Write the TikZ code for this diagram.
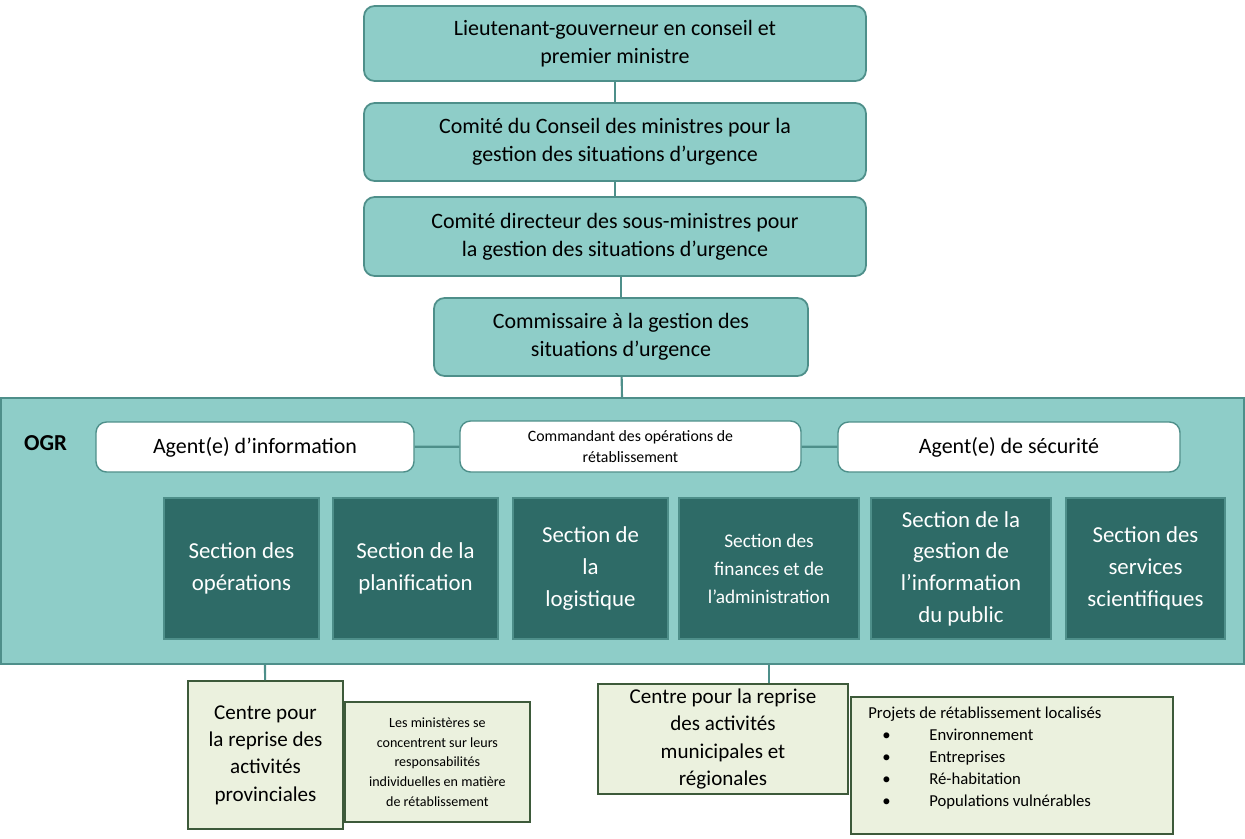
\documentclass[tikz,border=0pt]{standalone}
\usepackage{fontspec}
\setmainfont{Carlito}
\definecolor{tealL}{HTML}{8ECDC8}
\definecolor{tealB}{HTML}{4E8F8A}
\definecolor{tealD}{HTML}{2E6B67}
\definecolor{greenL}{HTML}{EBF1DE}
\definecolor{greenB}{HTML}{3D5A3A}
\tikzset{
  govbox/.style={draw=tealB,fill=tealL,rounded corners=6pt,line width=1pt,align=center,font=\fontsize{12.5}{16}\selectfont,inner sep=0pt},
  whitebox/.style={draw=tealB,fill=white,rounded corners=6pt,line width=0.8pt,align=center,inner sep=0pt},
  secbox/.style={draw=tealB,fill=tealD,text=white,align=center,font=\fontsize{13}{18}\selectfont,inner sep=0pt,line width=0.6pt},
  ctrbox/.style={draw=greenB,fill=greenL,line width=1pt,align=center,inner sep=0pt},
  link/.style={draw=tealB,line width=1.2pt}
}
\begin{document}
\begin{tikzpicture}[x=0.02cm,y=-0.02cm]
\useasboundingbox (0,0) rectangle (1245,839);
% frame of the OGR
\node[draw=tealB,fill=tealL,line width=1pt,minimum width=1243*0.02cm,minimum height=266*0.02cm,inner sep=0pt] (ogr) at (622.5,531) {};
\node[font=\fontsize{13}{16}\selectfont\bfseries,anchor=west] (ogrlabel) at (18,443) {OGR};

\node[govbox,minimum width=502*0.02cm,minimum height=75*0.02cm] (lg) at (615,43.5) {Lieutenant-gouverneur en conseil et\\premier ministre};
\node[govbox,minimum width=502*0.02cm,minimum height=78*0.02cm] (ccm) at (615,142) {Comité du Conseil des ministres pour la\\gestion des situations d'urgence};
\node[govbox,minimum width=502*0.02cm,minimum height=79*0.02cm] (csm) at (615,236.5) {Comité directeur des sous-ministres pour\\la gestion des situations d’urgence};
\node[govbox,minimum width=374*0.02cm,minimum height=78*0.02cm] (comm) at (621,337) {Commissaire à la gestion des\\situations d'urgence};
\coordinate (ogrtop) at (622,398);
\draw[link] (lg) -- (ccm);
\draw[link] (ccm) -- (csm);
\draw[link] (csm.south -| comm.north) -- (comm);
\draw[link] (comm) -- (ogrtop);

\node[whitebox,minimum width=318*0.02cm,minimum height=50*0.02cm,font=\fontsize{12.5}{15}\selectfont] (info) at (255,447) {Agent(e) d’information};
\node[whitebox,minimum width=341*0.02cm,minimum height=51*0.02cm,font=\fontsize{9}{11.5}\selectfont] (cmd) at (630.5,446.5) {Commandant des opérations de\\rétablissement};
\node[whitebox,minimum width=342*0.02cm,minimum height=50*0.02cm,font=\fontsize{12.5}{15}\selectfont] (secu) at (1009,447) {Agent(e) de sécurité};
\draw[link] (info) -- (cmd);
\draw[link] (cmd) -- (secu);

\node[secbox,minimum width=155*0.02cm,minimum height=141*0.02cm] (ops) at (241.5,568.5) {Section des\\opérations};
\node[secbox,minimum width=165*0.02cm,minimum height=141*0.02cm] (plan) at (415.5,568.5) {Section de la\\planification};
\node[secbox,minimum width=155*0.02cm,minimum height=141*0.02cm] (logi) at (590.5,568.5) {Section de\\la\\logistique};
\node[secbox,minimum width=180*0.02cm,minimum height=141*0.02cm,font=\fontsize{11}{16}\selectfont] (fin) at (769,568.5) {Section des\\finances et de\\l’administration};
\node[secbox,minimum width=180*0.02cm,minimum height=141*0.02cm] (gip) at (961,568.5) {Section de la\\gestion de\\l’information\\du public};
\node[secbox,minimum width=159*0.02cm,minimum height=141*0.02cm] (sci) at (1145.5,568.5) {Section des\\services\\scientifiques};

\coordinate (ogrL) at (265,664);
\coordinate (ogrR) at (769,664);
\node[ctrbox,minimum width=155*0.02cm,minimum height=148*0.02cm,font=\fontsize{12}{15.5}\selectfont] (prov) at (265.5,755) {Centre pour\\la reprise des\\activités\\provinciales};
\node[ctrbox,minimum width=185*0.02cm,minimum height=120*0.02cm,font=\fontsize{8}{11.2}\selectfont,anchor=west] (mins) at (344,762) {Les ministères se\\concentrent sur leurs\\responsabilités\\individuelles en matière\\de rétablissement};
\node[ctrbox,minimum width=250*0.02cm,minimum height=110*0.02cm,font=\fontsize{12}{15.5}\selectfont] (muni) at (723,739) {Centre pour la reprise\\des activités\\municipales et\\régionales};
\node[ctrbox,minimum width=322*0.02cm,minimum height=137*0.02cm,font=\fontsize{9.5}{13.5}\selectfont,anchor=west] (proj) at (850,765.5) {};
\node[font=\fontsize{9.5}{13.5}\selectfont,anchor=north west,align=left,inner sep=0pt] (projtxt) at (868,707)
  {Projets de rétablissement localisés\\[-1pt]
   \hspace*{8pt}\textbullet\hspace{22pt}Environnement\\[-1pt]
   \hspace*{8pt}\textbullet\hspace{22pt}Entreprises\\[-1pt]
   \hspace*{8pt}\textbullet\hspace{22pt}Ré-habitation\\[-1pt]
   \hspace*{8pt}\textbullet\hspace{22pt}Populations vulnérables};
\draw[link] (ogrL) -- (prov);
\draw[link] (ogrR) -- (ogrR |- muni.north);
\end{tikzpicture}
\end{document}
